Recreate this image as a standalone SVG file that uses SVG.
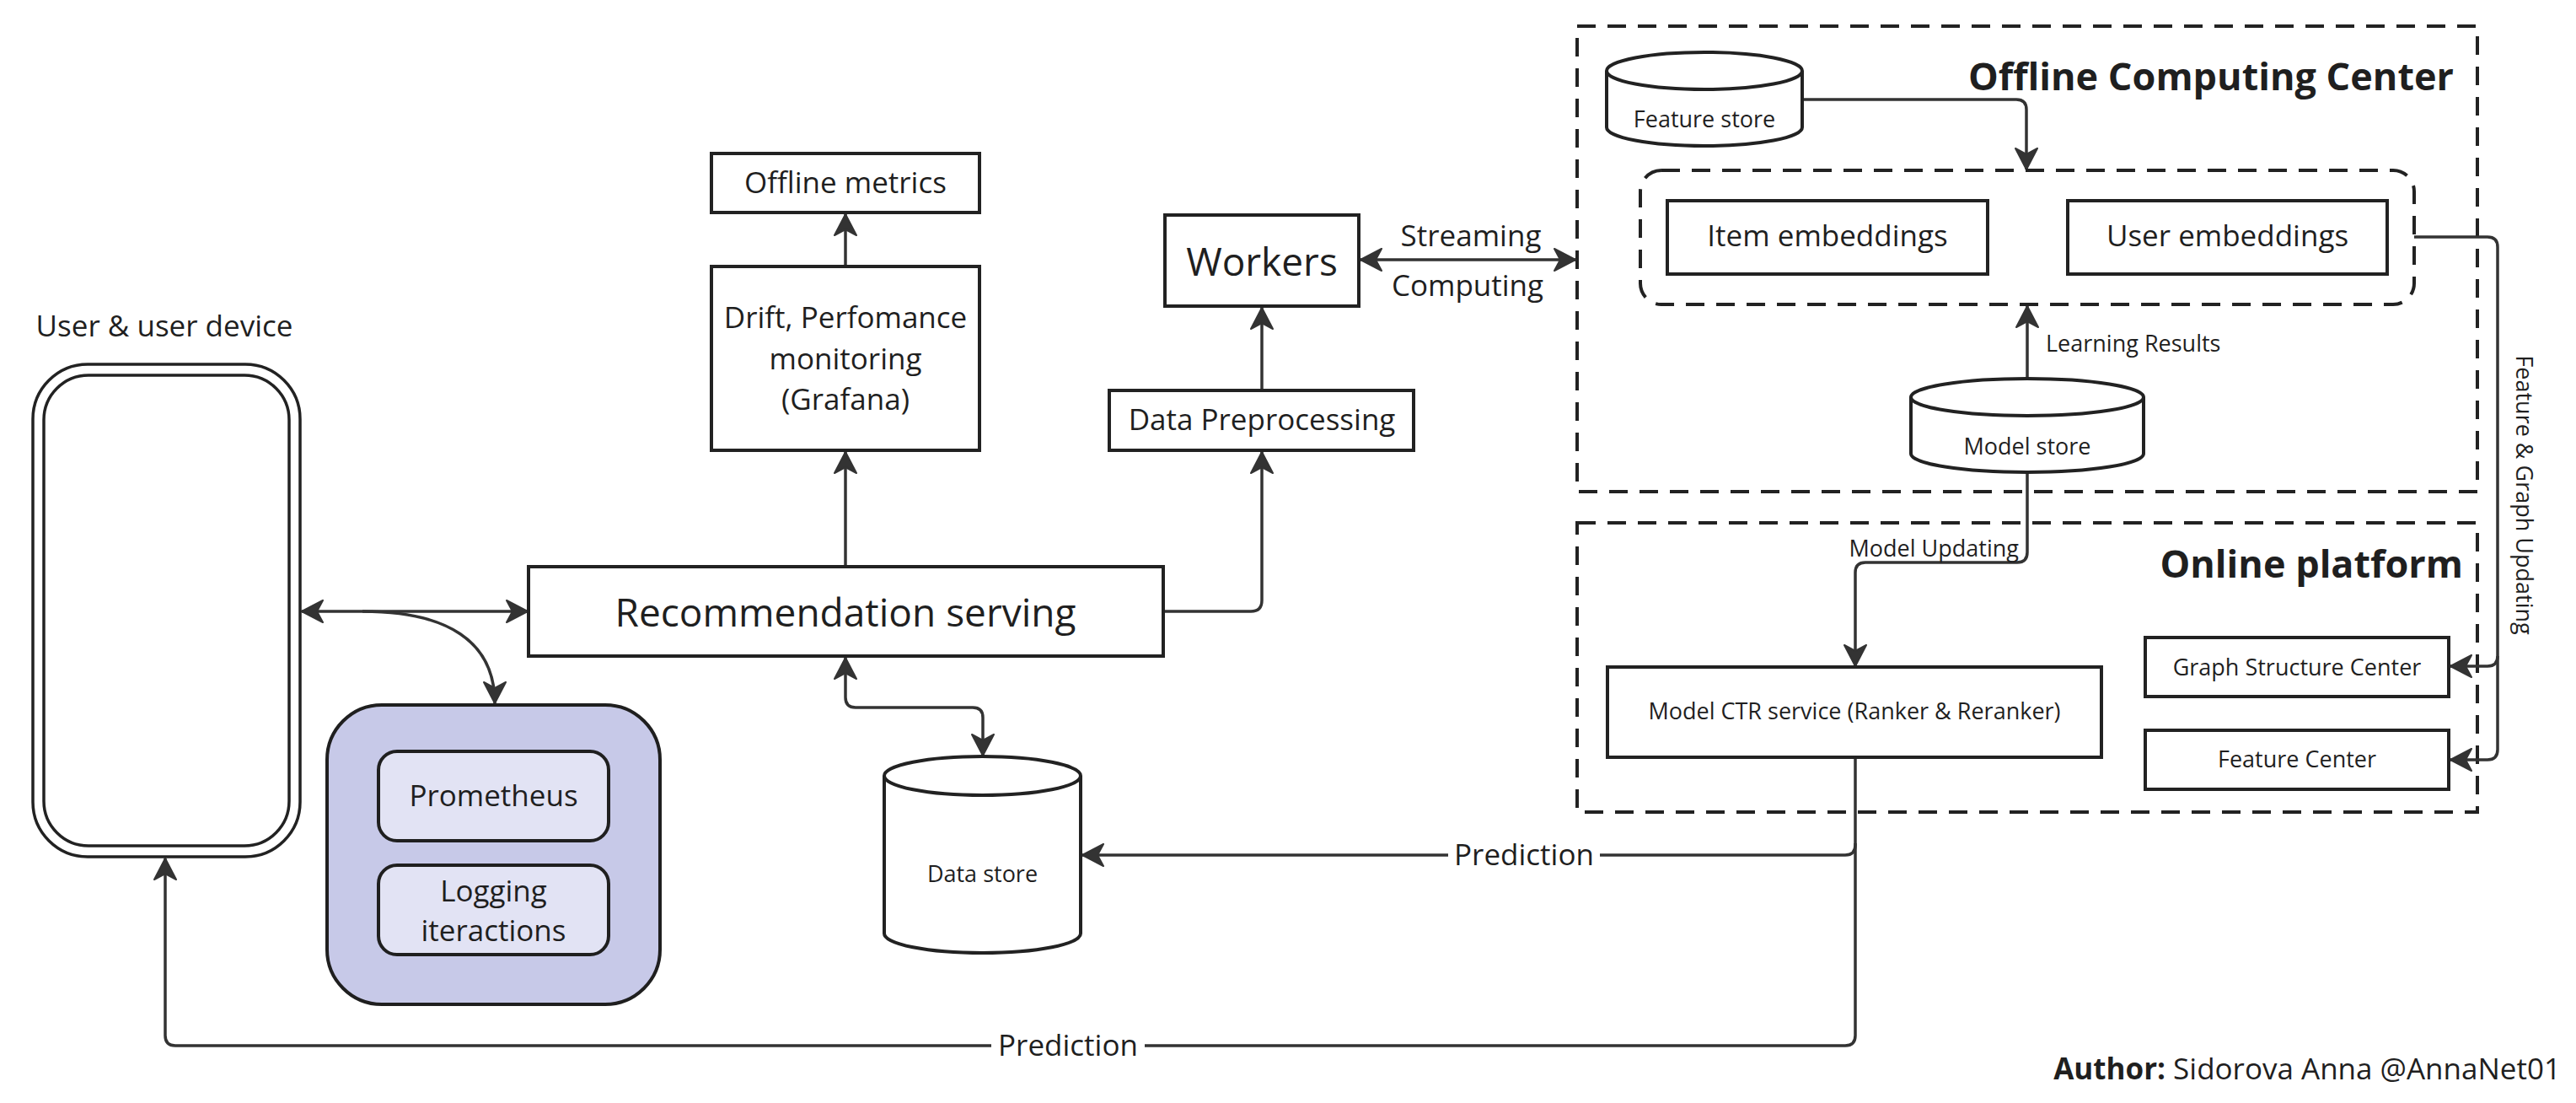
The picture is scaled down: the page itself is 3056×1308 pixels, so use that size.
<svg xmlns="http://www.w3.org/2000/svg" width="3056" height="1308" viewBox="0 0 3056 1308">
<defs>
<marker id="ah" viewBox="-2 -16 30 32" refX="25" refY="0" markerWidth="30" markerHeight="32" markerUnits="userSpaceOnUse" orient="auto-start-reverse">
<path d="M25 0 L0 -13 L7 0 L0 13 Z" fill="#333" stroke="#333" stroke-width="2" stroke-linejoin="round"/>
</marker>
</defs>
<style>
text{font-family:"Open Sans","Noto Sans","Liberation Sans",sans-serif;fill:#1f1f1f}
.m{font-size:35px;text-anchor:middle}
.b{font-size:46px;text-anchor:middle}
.s{font-size:27px;text-anchor:middle}
.t{font-size:45px;font-weight:bold;text-anchor:end}
.box{fill:#fff;stroke:#222;stroke-width:4}
.dash{fill:none;stroke:#222;stroke-width:4;stroke-dasharray:22 14}
.cyl{fill:#fff;stroke:#222;stroke-width:4}
.c{fill:none;stroke:#333;stroke-width:3.5}
.a{marker-end:url(#ah)}
.aa{marker-start:url(#ah);marker-end:url(#ah)}
</style>
<rect width="3056" height="1308" fill="#fff"/>

<g id="offline-center">
<rect class="dash" x="1871" y="31" width="1068" height="552"/>
<text class="t" x="2911" y="107">Offline Computing Center</text>
</g>
<g id="online-platform">
<rect class="dash" x="1871" y="620" width="1068" height="343"/>
<text class="t" x="2922" y="685">Online platform</text>
</g>

<g id="connectors">
<line class="c a" x1="1003" y1="672" x2="1003" y2="536"/>
<line class="c a" x1="1003" y1="316" x2="1003" y2="254"/>
<path class="c a" d="M1380 725 H1484 Q1497 725 1497 712 V536"/>
<line class="c a" x1="1497" y1="463" x2="1497" y2="365"/>
<line class="c aa" x1="1614" y1="308" x2="1869" y2="308"/>
<line class="c aa" x1="358" y1="725" x2="626" y2="725"/>
<path class="c a" d="M430 725 C530 725 587 760 587 834"/>
<path class="c aa" d="M1003 780 V827 Q1003 839 1015 839 H1154 Q1166 839 1166 851 V896"/>
<path class="c a" d="M2138 118 H2392 Q2404 118 2404 130 V201"/>
<line class="c a" x1="2405" y1="449" x2="2405" y2="363"/>
<path class="c a" d="M2405 560 V655 Q2405 667 2393 667 H2213 Q2201 667 2201 679 V790"/>
<path class="c a" d="M2864 281 H2951 Q2963 281 2963 293 V889 Q2963 901 2951 901 H2907"/>
<path class="c a" d="M2963 778 Q2963 790 2951 790 H2907"/>
<path class="c a" d="M2201 898 V1002 Q2201 1014 2189 1014 H1284"/>
<path class="c a" d="M2201 1000 V1228 Q2201 1240 2189 1240 H208 Q196 1240 196 1228 V1018"/>
<rect x="1718" y="990" width="180" height="46" fill="#fff"/>
<text class="m" x="1808" y="1026">Prediction</text>
<rect x="1176" y="1216" width="182" height="46" fill="#fff"/>
<text class="m" x="1267" y="1252">Prediction</text>
<text class="m" x="1745" y="292">Streaming</text>
<text class="m" x="1741" y="351">Computing</text>
<text class="s" x="2427" y="417" style="text-anchor:start">Learning Results</text>
<text class="s" x="2395" y="660" style="text-anchor:end">Model Updating</text>
<text class="s" transform="translate(2985 587) rotate(90)">Feature &amp; Graph Updating</text>
</g>

<g id="user-device">
<text class="m" x="195" y="399">User &amp; user device</text>
<rect x="39" y="432" width="317" height="584" rx="65" fill="#fff" stroke="#222" stroke-width="3.5"/>
<rect x="52" y="445" width="291" height="558" rx="53" fill="#fff" stroke="#222" stroke-width="3.5"/>
</g>

<g id="offline-metrics">
<rect class="box" x="844" y="182" width="318" height="70"/>
<text class="m" x="1003" y="229">Offline metrics</text>
</g>

<g id="drift-monitoring">
<rect class="box" x="844" y="316" width="318" height="218"/>
<text class="m" x="1003" y="389">Drift, Perfomance</text>
<text class="m" x="1003" y="438">monitoring</text>
<text class="m" x="1003" y="486">(Grafana)</text>
</g>

<g id="workers">
<rect class="box" x="1382" y="255" width="230" height="108"/>
<text class="b" x="1497" y="327">Workers</text>
</g>

<g id="data-preprocessing">
<rect class="box" x="1316" y="463" width="361" height="71"/>
<text class="m" x="1497" y="510">Data Preprocessing</text>
</g>

<g id="recommendation-serving">
<rect class="box" x="627" y="672" width="753" height="106"/>
<text class="b" x="1003" y="743">Recommendation serving</text>
</g>

<g id="monitoring-group">
<rect x="388" y="836" width="395" height="355" rx="65" fill="#c7c9e8" stroke="#1f1f1f" stroke-width="4"/>
<rect x="449" y="891" width="273" height="106" rx="22" fill="#e2e3f4" stroke="#1f1f1f" stroke-width="4"/>
<text class="m" x="585.5" y="956">Prometheus</text>
<rect x="449" y="1026" width="273" height="106" rx="22" fill="#e2e3f4" stroke="#1f1f1f" stroke-width="4"/>
<text class="m" x="585.5" y="1069">Logging</text>
<text class="m" x="585.5" y="1116">iteractions</text>
</g>

<g id="data-store">
<path class="cyl" d="M1049 920 A116.5 23 0 0 1 1282 920 V1107 A116.5 23 0 0 1 1049 1107 Z"/>
<path fill="none" stroke="#222" stroke-width="4" d="M1049 920 A116.5 23 0 0 0 1282 920"/>
<text class="s" x="1165.5" y="1046">Data store</text>
</g>

<g id="feature-store">
<path class="cyl" d="M1906 84 A116 22 0 0 1 2138 84 V151 A116 22 0 0 1 1906 151 Z"/>
<path fill="none" stroke="#222" stroke-width="4" d="M1906 84 A116 22 0 0 0 2138 84"/>
<text class="s" x="2022" y="151">Feature store</text>
</g>

<g id="embeddings-group">
<rect class="dash" x="1946" y="202" width="918" height="159" rx="25"/>
</g>

<g id="item-embeddings">
<rect class="box" x="1978" y="238" width="380" height="87"/>
<text class="m" x="2168" y="292">Item embeddings</text>
</g>

<g id="user-embeddings">
<rect class="box" x="2453" y="238" width="379" height="87"/>
<text class="m" x="2642.5" y="292">User embeddings</text>
</g>

<g id="model-store">
<path class="cyl" d="M2267 471 A138 22 0 0 1 2543 471 V538 A138 22 0 0 1 2267 538 Z"/>
<path fill="none" stroke="#222" stroke-width="4" d="M2267 471 A138 22 0 0 0 2543 471"/>
<text class="s" x="2405" y="539">Model store</text>
</g>

<g id="model-ctr">
<rect class="box" x="1907" y="791" width="586" height="107"/>
<text class="s" x="2200" y="853">Model CTR service (Ranker &amp; Reranker)</text>
</g>

<g id="graph-structure-center">
<rect class="box" x="2545" y="756" width="360" height="70"/>
<text class="s" x="2725" y="801">Graph Structure Center</text>
</g>

<g id="feature-center">
<rect class="box" x="2545" y="866" width="360" height="70"/>
<text class="s" x="2725" y="910">Feature Center</text>
</g>

<g id="author">
<text x="3038" y="1280" style="font-size:35px;text-anchor:end"><tspan font-weight="bold">Author:</tspan> Sidorova Anna @AnnaNet01</text>
</g>
</svg>
